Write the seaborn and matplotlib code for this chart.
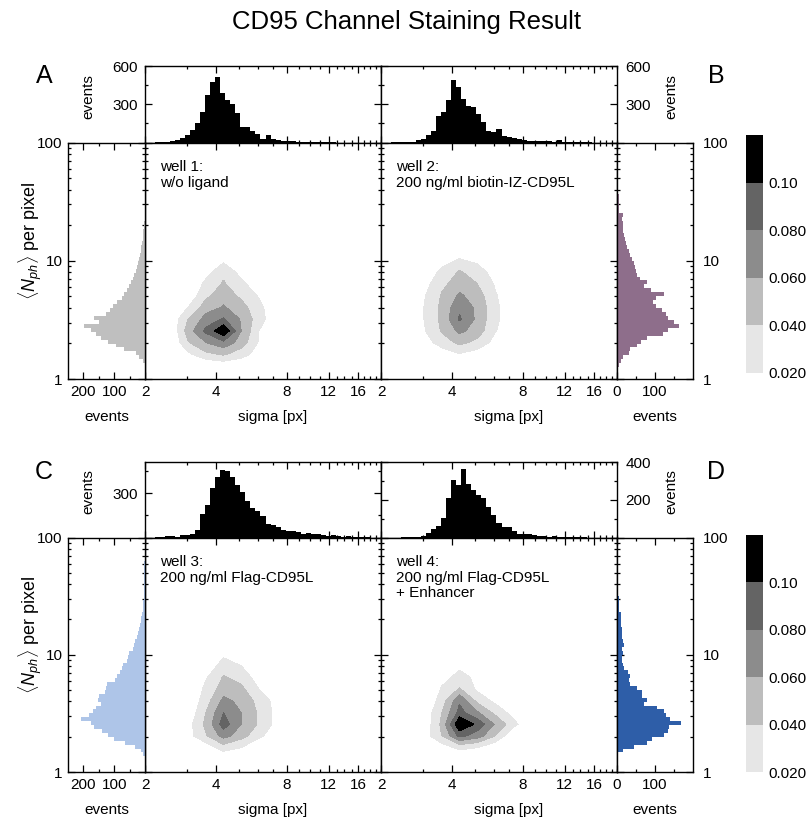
import numpy as np
import matplotlib
matplotlib.use('Agg')
import matplotlib.pyplot as plt
import seaborn as sns
from matplotlib.colors import ListedColormap, BoundaryNorm
from matplotlib.cm import ScalarMappable
from matplotlib.ticker import FixedLocator, FixedFormatter, NullFormatter

sns.set_theme(style='white')
plt.rcParams['font.family'] = ['Liberation Sans', 'DejaVu Sans']
plt.rcParams['mathtext.fontset'] = 'custom'
plt.rcParams['mathtext.rm'] = 'Liberation Sans'
plt.rcParams['mathtext.it'] = 'Liberation Sans:italic'
plt.rcParams['text.color'] = 'black'
plt.rcParams['axes.labelcolor'] = 'black'
plt.rcParams['xtick.color'] = 'black'
plt.rcParams['ytick.color'] = 'black'

# ---------------- data ----------------
title = "CD95 Channel Staining Result"
panel_letters = ["A", "B", "C", "D"]
well_texts = ["well 1:\nw/o ligand",
              "well 2:\n200 ng/ml biotin-IZ-CD95L",
              "well 3:\n200 ng/ml Flag-CD95L",
              "well 4:\n200 ng/ml Flag-CD95L\n+ Enhancer"]
side_colors = ["#bfbfbf", "#8e6e8b", "#aec5e8", "#2e5ea8"]

sigma_range = (2, 20)      # sigma [px], log axis
n_sigma_bins = 47
N_range = (1, 100)         # <N_ph> per pixel, log axis
n_N_bins = 60

top_counts_A = [0, 0, 1, 3, 5, 10, 20, 35, 55, 100, 150, 240, 375, 475, 515, 390,
                330, 300, 235, 120, 125, 90, 65, 30, 55, 30, 20, 15, 12, 8, 6, 4,
                3, 2, 2, 1, 1, 1, 0, 0, 0, 0, 0, 0, 0, 0, 0]
top_counts_B = [0, 0, 1, 2, 3, 4, 5, 18, 30, 55, 90, 210, 243, 335, 488, 435,
                343, 290, 277, 224, 158, 92, 84, 105, 53, 40, 32, 26, 21, 13, 10, 13,
                8, 8, 6, 16, 6, 4, 3, 2, 1, 1, 0, 0, 0, 0, 0]
top_counts_C = [0, 0, 4, 4, 8, 11, 6, 16, 16, 25, 52, 160, 221, 334, 408, 453,
                451, 408, 352, 305, 246, 199, 176, 142, 92, 86, 70, 52, 43, 47, 34, 25,
                29, 27, 23, 16, 11, 14, 7, 5, 11, 6, 4, 2, 1, 0, 0]
top_counts_D = [0, 0, 0, 0, 1, 2, 4, 5, 10, 23, 44, 61, 102, 207, 307, 277,
                361, 286, 251, 225, 207, 163, 119, 79, 58, 53, 32, 19, 18, 16, 14, 10,
                10, 5, 8, 5, 4, 4, 3, 2, 1, 0, 0, 0, 0, 0, 0]

side_counts_A = [0, 0, 0, 0, 8, 18, 30, 67, 95, 120, 143, 160, 175, 198, 150, 165,
                 127, 115, 105, 90, 75, 67, 60, 52, 45, 40, 35, 30, 26, 22, 18, 16,
                 14, 12, 10, 8, 7, 5, 4, 2, 0, 0, 0, 0, 0, 0, 0, 0,
                 0, 0, 0, 0, 0, 0, 0, 0, 0, 0, 0, 0]
side_counts_B = [0, 0, 0, 4, 10, 15, 31, 35, 53, 62, 80, 120, 135, 164, 150, 133,
                 128, 118, 102, 95, 102, 124, 90, 71, 80, 60, 53, 50, 48, 44, 40, 33,
                 31, 26, 24, 20, 18, 16, 15, 15, 14, 15, 6, 5, 5, 4, 4, 3,
                 3, 2, 2, 0, 0, 0, 0, 0, 0, 0, 0, 0]
side_counts_C = [0, 0, 0, 0, 7, 14, 31, 64, 100, 120, 140, 164, 175, 209, 183, 170,
                 159, 142, 153, 148, 131, 126, 122, 98, 92, 80, 75, 70, 59, 55, 51, 40,
                 36, 33, 26, 22, 20, 17, 14, 12, 9, 7, 6, 5, 3, 3, 3, 3,
                 3, 3, 3, 3, 3, 3, 0, 0, 0, 0, 0, 0]
side_counts_D = [0, 0, 0, 0, 2, 15, 45, 80, 93, 124, 133, 137, 168, 140, 130, 124,
                 106, 71, 80, 66, 66, 53, 33, 31, 33, 28, 18, 15, 12, 14, 15, 13,
                 18, 15, 13, 13, 12, 11, 11, 11, 10, 6, 4, 4, 4, 2, 0, 0,
                 0, 0, 0, 0, 0, 0, 0, 0, 0, 0, 0, 0]

# density grid (contours): sigma nodes and N nodes
grid_sigma = [2.15, 2.56, 3.04, 3.62, 4.30, 5.11, 6.08, 7.23, 8.60, 10.2]
grid_N = [1.02, 1.28, 1.61, 2.03, 2.55, 3.21, 4.04, 5.09, 6.40, 8.06, 10.1, 12.8, 16.1]
# rows listed from top (N=16.1) to bottom (N=1.02)
density_A = [
    [0, 0, 0, 0, 0, 0, 0, 0, 0, 0],
    [0, 0, 0, 0, 0, 0, 0, 0, 0, 0],
    [0, 0, 0, 0, 0.015, 0, 0, 0, 0, 0],
    [0, 0, 0, 0.012, 0.035, 0.012, 0, 0, 0, 0],
    [0, 0, 0, 0.025, 0.042, 0.025, 0.005, 0, 0, 0],
    [0, 0, 0.005, 0.035, 0.052, 0.035, 0.018, 0, 0, 0],
    [0, 0, 0.02, 0.05, 0.062, 0.048, 0.025, 0.005, 0, 0],
    [0, 0.005, 0.04, 0.068, 0.082, 0.058, 0.028, 0.005, 0, 0],
    [0, 0, 0.05, 0.085, 0.118, 0.06, 0.02, 0, 0, 0],
    [0, 0, 0.038, 0.06, 0.075, 0.05, 0.018, 0, 0, 0],
    [0, 0, 0.015, 0.035, 0.042, 0.03, 0.008, 0, 0, 0],
    [0, 0, 0, 0, 0.005, 0, 0, 0, 0, 0],
    [0, 0, 0, 0, 0, 0, 0, 0, 0, 0],
]
density_B = [
    [0, 0, 0, 0, 0, 0, 0, 0, 0, 0],
    [0, 0, 0, 0, 0.005, 0, 0, 0, 0, 0],
    [0, 0, 0, 0.012, 0.022, 0.015, 0, 0, 0, 0],
    [0, 0, 0.005, 0.025, 0.042, 0.03, 0.01, 0, 0, 0],
    [0, 0, 0.012, 0.035, 0.05, 0.04, 0.018, 0, 0, 0],
    [0, 0, 0.018, 0.042, 0.063, 0.05, 0.022, 0.005, 0, 0],
    [0, 0, 0.02, 0.045, 0.075, 0.055, 0.025, 0.005, 0, 0],
    [0, 0, 0.02, 0.045, 0.083, 0.055, 0.025, 0.005, 0, 0],
    [0, 0, 0.018, 0.042, 0.065, 0.05, 0.022, 0, 0, 0],
    [0, 0, 0.01, 0.03, 0.045, 0.035, 0.012, 0, 0, 0],
    [0, 0, 0, 0.008, 0.018, 0.01, 0, 0, 0, 0],
    [0, 0, 0, 0, 0, 0, 0, 0, 0, 0],
    [0, 0, 0, 0, 0, 0, 0, 0, 0, 0],
]
density_C = [
    [0, 0, 0, 0, 0, 0, 0, 0, 0, 0],
    [0, 0, 0, 0, 0, 0, 0, 0, 0, 0],
    [0, 0, 0, 0, 0.016, 0, 0, 0, 0, 0],
    [0, 0, 0, 0.008, 0.028, 0.02, 0, 0, 0, 0],
    [0, 0, 0, 0.018, 0.042, 0.032, 0.01, 0, 0, 0],
    [0, 0, 0, 0.025, 0.05, 0.045, 0.02, 0.002, 0, 0],
    [0, 0, 0, 0.032, 0.065, 0.055, 0.032, 0.012, 0, 0],
    [0, 0, 0.005, 0.04, 0.08, 0.06, 0.037, 0.013, 0, 0],
    [0, 0, 0.012, 0.045, 0.09, 0.06, 0.037, 0.013, 0, 0],
    [0, 0, 0.012, 0.038, 0.068, 0.048, 0.025, 0.005, 0, 0],
    [0, 0, 0, 0.008, 0.03, 0.02, 0, 0, 0, 0],
    [0, 0, 0, 0, 0, 0, 0, 0, 0, 0],
    [0, 0, 0, 0, 0, 0, 0, 0, 0, 0],
]
density_D = [
    [0, 0, 0, 0, 0, 0, 0, 0, 0, 0],
    [0, 0, 0, 0, 0, 0, 0, 0, 0, 0],
    [0, 0, 0, 0, 0, 0, 0, 0, 0, 0],
    [0, 0, 0, 0.005, 0.016, 0.005, 0, 0, 0, 0],
    [0, 0, 0, 0.014, 0.026, 0.016, 0, 0, 0, 0],
    [0, 0, 0, 0.022, 0.042, 0.016, 0.005, 0, 0, 0],
    [0, 0, 0, 0.03, 0.077, 0.035, 0.015, 0, 0, 0],
    [0, 0, 0.005, 0.04, 0.087, 0.063, 0.035, 0.012, 0, 0],
    [0, 0, 0.005, 0.045, 0.12, 0.095, 0.058, 0.028, 0, 0],
    [0, 0, 0.01, 0.04, 0.086, 0.07, 0.04, 0, 0, 0],
    [0, 0, 0, 0.01, 0.025, 0.02, 0.005, 0, 0, 0],
    [0, 0, 0, 0, 0, 0, 0, 0, 0, 0],
    [0, 0, 0, 0, 0, 0, 0, 0, 0, 0],
]
density_levels = [0.02, 0.04, 0.06, 0.08, 0.10, 0.12]
density_colors = ["#e6e6e6", "#bdbdbd", "#8c8c8c", "#646464", "#000000"]
cbar_labels = ["0.020", "0.040", "0.060", "0.080", "0.10"]

top_ylims = [600, 600, 510, 400]
top_major = [[300, 600], [300, 600], [300], [200, 400]]
top_minor = [[150, 450], [150, 450], [150, 450], [100, 300]]

sigma_major = [2, 4, 8, 12, 16]
sigma_minor = [3, 5, 6, 7, 9, 10, 11, 13, 14, 15, 17, 18, 19, 20]
N_major = [1, 10, 100]
N_minor = [2, 3, 4, 5, 6, 7, 8, 9, 20, 30, 40, 50, 60, 70, 80, 90]

# ---------------- figure ----------------
W, H = 808, 824
fig = plt.figure(figsize=(W / 100, H / 100), dpi=100)
FS = 11


def px_axes(x0, y0, x1, y1):
    return fig.add_axes([x0 / W, 1 - y1 / H, (x1 - x0) / W, (y1 - y0) / H])


def style(ax):
    ax.set_facecolor('white')
    for s in ax.spines.values():
        s.set_visible(True)
        s.set_color('black')
        s.set_linewidth(1.0)
    ax.tick_params(which='both', direction='in', top=True, bottom=True,
                   left=True, right=True, colors='black', labelsize=FS, width=0.9)
    ax.tick_params(which='major', length=5)
    ax.tick_params(which='minor', length=2.5)
    ax.set_xlabel('')
    ax.set_ylabel('')


def sigma_ticks(ax, labels):
    ax.set_xscale('log')
    ax.set_xlim(*sigma_range)
    ax.xaxis.set_major_locator(FixedLocator(sigma_major))
    ax.xaxis.set_minor_locator(FixedLocator(sigma_minor))
    ax.xaxis.set_minor_formatter(NullFormatter())
    if labels:
        ax.xaxis.set_major_formatter(FixedFormatter([str(v) for v in sigma_major]))
    else:
        ax.xaxis.set_major_formatter(NullFormatter())


def N_ticks(ax, side):
    ax.set_yscale('log')
    ax.set_ylim(*N_range)
    ax.yaxis.set_major_locator(FixedLocator(N_major))
    ax.yaxis.set_minor_locator(FixedLocator(N_minor))
    ax.yaxis.set_minor_formatter(NullFormatter())
    ax.yaxis.set_major_formatter(FixedFormatter([str(v) for v in N_major]))
    if side == 'left':
        ax.tick_params(axis='y', labelleft=True, labelright=False, pad=4)
    elif side == 'right':
        ax.tick_params(axis='y', labelleft=False, labelright=True, pad=7)
    else:
        ax.tick_params(axis='y', labelleft=False, labelright=False)


edges_sigma_log = np.linspace(np.log10(sigma_range[0]), np.log10(sigma_range[1]), n_sigma_bins + 1)
centers_sigma = 10 ** ((edges_sigma_log[:-1] + edges_sigma_log[1:]) / 2)
edges_N_log = np.linspace(np.log10(N_range[0]), np.log10(N_range[1]), n_N_bins + 1)
centers_N = 10 ** ((edges_N_log[:-1] + edges_N_log[1:]) / 2)

top_counts = [top_counts_A, top_counts_B, top_counts_C, top_counts_D]
side_counts = [side_counts_A, side_counts_B, side_counts_C, side_counts_D]
densities = [density_A, density_B, density_C, density_D]

rows = [dict(htop=66, mtop=142.5, mbot=379, ctop=135, cbot=373),
        dict(htop=462, mtop=537.5, mbot=772, ctop=535, cbot=772)]
col_main = [(145, 381), (381, 617)]
left_hist_x = (68, 145)
right_hist_x = (617, 693)

cmap = ListedColormap(density_colors)
norm = BoundaryNorm(density_levels, len(density_colors))

for p in range(4):
    r = rows[p // 2]
    c = p % 2
    mx0, mx1 = col_main[c]

    # --- top histogram ---
    axt = px_axes(mx0, r['htop'], mx1, r['mtop'])
    sns.histplot(x=centers_sigma, weights=top_counts[p], bins=n_sigma_bins,
                 binrange=(edges_sigma_log[0], edges_sigma_log[-1]), log_scale=True,
                 color='black', alpha=1, linewidth=0, edgecolor='none', ax=axt)
    style(axt)
    sigma_ticks(axt, False)
    axt.set_ylim(0, top_ylims[p])
    axt.yaxis.set_major_locator(FixedLocator(top_major[p]))
    axt.yaxis.set_minor_locator(FixedLocator(top_minor[p]))
    axt.yaxis.set_major_formatter(FixedFormatter([str(v) for v in top_major[p]]))
    axt.yaxis.set_minor_formatter(NullFormatter())
    if c == 0:
        axt.tick_params(axis='y', labelleft=True, labelright=False, pad=5)
        fig.text(88 / W, 1 - ((r['htop'] + r['mtop']) / 2 - 8) / H, 'events',
                 rotation=90, ha='center', va='center', fontsize=FS)
    else:
        axt.tick_params(axis='y', labelleft=False, labelright=True, pad=6)
        fig.text(671 / W, 1 - ((r['htop'] + r['mtop']) / 2 - 8) / H, 'events',
                 rotation=90, ha='center', va='center', fontsize=FS)

    # --- main contour plot ---
    axm = px_axes(mx0, r['mtop'], mx1, r['mbot'])
    style(axm)
    Z = np.array(densities[p])[::-1]
    axm.contourf(grid_sigma, grid_N, Z, levels=density_levels[:-1] + [1.0],
                 colors=density_colors)
    sigma_ticks(axm, True)
    N_ticks(axm, None)
    axm.tick_params(axis='x', pad=4)
    axm.text(0.065, 0.925, well_texts[p], transform=axm.transAxes, ha='left', va='top',
             fontsize=FS, linespacing=1.15)
    fig.text(((mx0 + mx1) / 2 + 10) / W, 1 - (r['mbot'] + 38) / H, 'sigma [px]',
             ha='center', va='center', fontsize=FS)

    # --- side histogram ---
    if c == 0:
        axs = px_axes(left_hist_x[0], r['mtop'], left_hist_x[1], r['mbot'])
    else:
        axs = px_axes(right_hist_x[0], r['mtop'], right_hist_x[1], r['mbot'])
    sns.histplot(y=centers_N, weights=side_counts[p], bins=n_N_bins,
                 binrange=(edges_N_log[0], edges_N_log[-1]), log_scale=True,
                 color=side_colors[p], alpha=1, linewidth=0, edgecolor='none', ax=axs)
    style(axs)
    N_ticks(axs, 'left' if c == 0 else 'right')
    if c == 0:
        axs.set_xlim(250, 0)
        axs.xaxis.set_major_locator(FixedLocator([100, 200]))
        axs.xaxis.set_major_formatter(FixedFormatter(['100', '200']))
        axs.xaxis.set_minor_locator(FixedLocator([50, 150]))
        xc = (left_hist_x[0] + left_hist_x[1]) / 2
    else:
        axs.set_xlim(0, 200)
        axs.xaxis.set_major_locator(FixedLocator([0, 100]))
        axs.xaxis.set_major_formatter(FixedFormatter(['0', '100']))
        axs.xaxis.set_minor_locator(FixedLocator([50, 150]))
        xc = (right_hist_x[0] + right_hist_x[1]) / 2
    axs.xaxis.set_minor_formatter(NullFormatter())
    axs.tick_params(axis='x', pad=4)
    fig.text(xc / W, 1 - (r['mbot'] + 38) / H, 'events', ha='center', va='center',
             fontsize=FS)
    if c == 0:
        axs.set_ylabel(r'$\langle N_{ph}\rangle$ per pixel', fontsize=FS + 2)
        axs.yaxis.set_label_coords((44 - 68) / 77, 0.585)

    # --- panel letters ---
    lx = 44 if c == 0 else 716
    fig.text(lx / W, 1 - ((r['htop'] + 10)) / H, panel_letters[p], ha='center', va='center',
             fontsize=18)

    # --- colorbar ---
    if c == 1:
        cax = px_axes(746, r['ctop'], 763, r['cbot'])
        cb = fig.colorbar(ScalarMappable(norm=norm, cmap=cmap), cax=cax,
                          ticks=density_levels[:-1])
        cb.ax.set_yticklabels(cbar_labels)
        cb.minorticks_off()
        cb.outline.set_visible(False)
        cb.ax.tick_params(which='both', length=0, labelsize=FS, pad=4)

fig.text(406 / W, 1 - 22 / H, title, ha='center', va='center', fontsize=18.5)
fig.savefig('out.png', dpi=100, facecolor='white')
